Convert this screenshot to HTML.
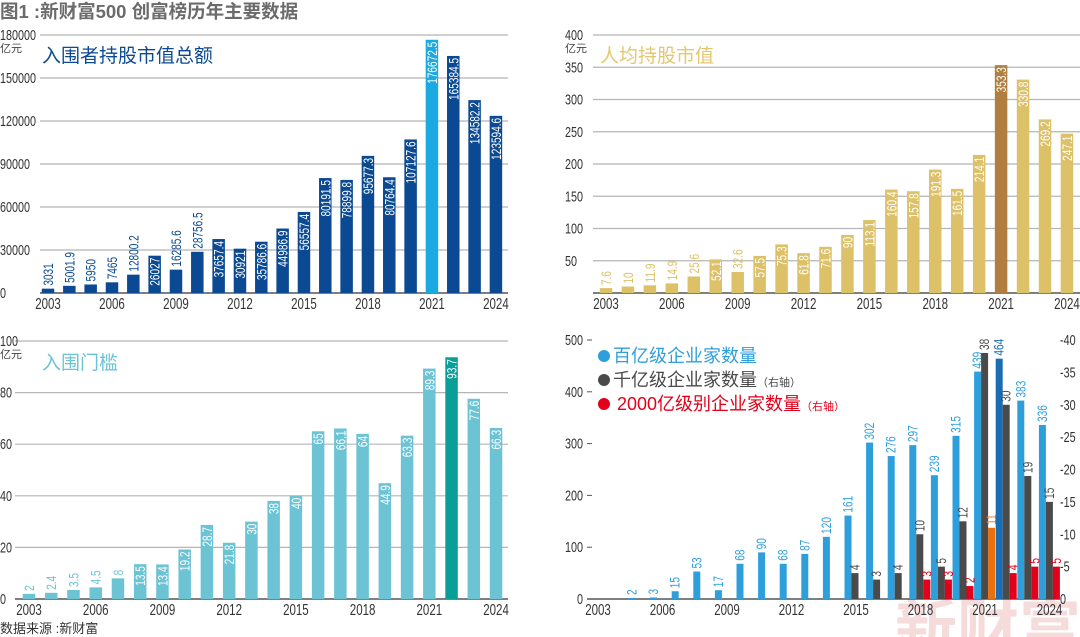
<!DOCTYPE html>
<html><head><meta charset="utf-8">
<style>
html,body{margin:0;padding:0;background:#fff;width:1080px;height:637px;overflow:hidden;}
svg{display:block;overflow:hidden;}
text{font-family:"Liberation Sans Narrow","Liberation Sans","Noto Sans CJK SC",sans-serif;}
.cjk{font-family:"Liberation Sans","Noto Sans CJK SC",sans-serif;}
</style></head>
<body>
<svg id="chart" width="1080" height="637" viewBox="0 0 1080 637" xmlns="http://www.w3.org/2000/svg">
<text class="cjk" x="0" y="18" font-size="18.5" font-weight="bold" fill="#6b6b6b">图1 :新财富500 创富榜历年主要数据</text>
<text class="cjk" x="0" y="633" font-size="13" fill="#333">数据来源 :新财富</text>
<text class="cjk" x="895" y="650" font-size="62" font-weight="bold" fill="#f5d3d3" opacity="0.8">新财富</text>
<g id="layer"></g>
</svg>
<script>
const years = ["2003","2004","2005","2006","2007","2008","2009","2010","2011","2012","2013","2014","2015","2016","2017","2018","2019","2020","2021","2022","2023","2024"];
const yearTicks = ["2003","2006","2009","2012","2015","2018","2021","2024"];
const totalValues = [3031,5001.9,5950,7465,12800.2,26027,16285.6,28756.5,37657.4,30921,35786.6,44986.9,56557.4,80191.5,78899.8,95677.3,80764.4,107127.6,176672.5,165384.5,134582.2,123594.6];
const totalTicks = [0,30000,60000,90000,120000,150000,180000];
const perCapValues = [7.6,10,11.9,14.9,25.6,52.1,32.6,57.5,75.3,61.8,71.6,90,113.1,160.4,157.8,191.3,161.5,214.1,353.3,330.8,269.2,247.1];
const perCapTicks = [50,100,150,200,250,300,350,400];
const thresholdValues = [2,2.4,3.5,4.5,8,13.5,13.4,19.2,28.7,21.8,30,38,40,65,66.1,64,44.9,63.3,89.3,93.7,77.6,66.3];
const thresholdTicks = [0,20,40,60,80,100];
const countYears = ["2004","2005","2006","2007","2008","2009","2010","2011","2012","2013","2014","2015","2016","2017","2018","2019","2020","2021","2022","2023"];
const hundredB = [2,3,15,53,17,68,90,68,87,120,161,302,276,297,239,315,439,464,383,336];
const thousandB = [null,null,null,null,null,null,null,null,null,null,4,3,4,10,5,12,38,30,19,15];
const twoThousandB = [null,null,null,null,null,null,null,null,null,null,null,null,null,3,3,2,11,4,5,5];
const countLeftTicks = [0,100,200,300,400,500];
const countRightTicks = [0,5,10,15,20,25,30,35,40];

const NS="http://www.w3.org/2000/svg";
const layer=document.getElementById('layer');
const SX=0.72;
function mk(tag,attrs,parent){const e=document.createElementNS(NS,tag);for(const k in attrs)e.setAttribute(k,attrs[k]);(parent||layer).appendChild(e);return e;}
function txt(s,attrs,parent){const e=mk('text',attrs,parent);e.textContent=s;return e;}
function textLen(s,fs){return s.length*fs*0.55*SX;}
function nt(s,x,y,fs,fill,anchor,parent){
  return txt(s,{x:0,y:0,'font-size':fs,fill:fill,'text-anchor':anchor||'start',transform:`translate(${x},${y}) scale(${SX},1)`},parent);
}

function barPanel(cfg){
  const g=mk('g',{});
  
  
  const ys=v=>cfg.y0-v/cfg.max*(cfg.y0-cfg.yTop);
  const xs=i=>cfg.x0+i*cfg.step;
  cfg.ticks.forEach(t=>{
    const y=ys(t);
    if(t>0){const l=mk('line',{x1:cfg.gx1,x2:cfg.gx2,y1:y,y2:y,stroke:'#b5b5b5','stroke-width':1.2},g);
      
      }
    const tl=nt(String(t),cfg.tickX,y+5,15,'#333','start',g);
    
    
  });
  const u=txt('亿元',{x:cfg.tickX,y:ys(cfg.max)+17,'font-size':11,fill:'#444',class:'cjk'},g);
  
  
  const base=mk('line',{x1:cfg.gx1,x2:cfg.gx2,y1:cfg.y0,y2:cfg.y0,stroke:'#333','stroke-width':1.3},g);
  
  
  cfg.values.forEach((v,i)=>{
    const x=xs(i),y=ys(v),h=cfg.y0-y;
    const col=i===cfg.hi?cfg.hiColor:cfg.color;
    const r=mk('rect',{x:x-cfg.bw/2,y:y,width:cfg.bw,height:h,fill:col},g);
    
    
    const s=String(v),fs=14,L=textLen(s,fs);
    let t;
    if(h>Math.max(L+6,26)){
      t=txt(s,{x:0,y:0,'font-size':fs,fill:'#fff','text-anchor':'end',transform:`translate(${x+5},${y+2}) rotate(-90) scale(${SX},1)`},g);
    }else{
      t=txt(s,{x:0,y:0,'font-size':fs,fill:col,'text-anchor':'start',transform:`translate(${x+5},${y-3}) rotate(-90) scale(${SX},1)`},g);
    }
    
    
  });
  years.forEach((yr,i)=>{
    if(yearTicks.indexOf(yr)<0)return;
    const t=nt(yr,xs(i),cfg.y0+16,16,'#333','middle',g);
    
    
  });
  const tt=txt(cfg.title,{x:cfg.titleX,y:cfg.titleY,'font-size':19,fill:cfg.titleColor,class:'cjk'},g);
  
  
}

barPanel({name:'total-market-value-panel',values:totalValues,ticks:totalTicks,max:180000,y0:293,yTop:35,x0:48,step:21.33,bw:12.5,gx1:40,gx2:508,tickX:0,color:'#0b4a93',hi:18,hiColor:'#1ba9e2',title:'入围者持股市值总额',titleX:42,titleY:62,titleColor:'#0b4a93'});
barPanel({name:'per-capita-value-panel',values:perCapValues,ticks:perCapTicks,max:400,y0:293,yTop:35,x0:606,step:21.95,bw:12.5,gx1:593,gx2:1080,tickX:565,color:'#dcc169',hi:18,hiColor:'#b07e3f',title:'人均持股市值',titleX:600,titleY:62,titleColor:'#e2c86e'});
barPanel({name:'entry-threshold-panel',values:thresholdValues,ticks:thresholdTicks,max:100,y0:599,yTop:341,x0:29,step:22.24,bw:12.5,gx1:15,gx2:508,tickX:0,color:'#6cc3d4',hi:19,hiColor:'#0a9e98',title:'入围门槛',titleX:42,titleY:369,titleColor:'#6cc3d4'});

(function(){
  const g=mk('g',{});
  
  
  const y0=599,yTop=340;
  const yl=v=>y0-v/500*(y0-yTop);
  const yr=v=>y0-v/40*(y0-yTop);
  const xb=i=>632+i*21.6;
  countLeftTicks.forEach(t=>{
    const y=yl(t);
    const l=nt(String(t),583,y+5,15,'#333','end',g);
    
    
    if(t>0){const m=mk('line',{x1:587,x2:592,y1:y,y2:y,stroke:'#555'},g);
      
      }
  });
  countRightTicks.forEach(t=>{
    const y=yr(t);
    const l=nt((t>0?'-':'')+t,1060,y+5,15,'#333','start',g);
    
    
  });
  const ax=mk('line',{x1:587,x2:1060,y1:y0,y2:y0,stroke:'#333','stroke-width':1.3},g);
  
  
  const lab=(s,x,y,col)=>{const t=txt(s,{x:0,y:0,'font-size':14,fill:col,transform:`translate(${x+4.5},${y-3}) rotate(-90) scale(${SX},1)`},g);
    
    };
  hundredB.forEach((v,i)=>{
    const x=xb(i),y=yl(v);
    const col=i===17?'#1a6cb3':'#2f9fdc';
    const r=mk('rect',{x:x-3.5,y:y,width:7,height:y0-y,fill:col},g);
    
    
    lab(String(v),x,y,col);
  });
  thousandB.forEach((v,i)=>{
    if(v===null)return;
    const x=xb(i)+7,y=yr(v);
    const r=mk('rect',{x:x-3.5,y:y,width:7,height:y0-y,fill:'#4a4a4a'},g);
    
    
    lab(String(v),x,y,'#4a4a4a');
  });
  twoThousandB.forEach((v,i)=>{
    if(v===null)return;
    const x=xb(i)+14,y=yr(v);
    const col=i===16?'#e8700f':'#e2001a';
    const r=mk('rect',{x:x-3.5,y:y,width:7,height:y0-y,fill:col},g);
    
    
    lab(String(v),x,y,col);
  });
  yearTicks.forEach((yrS,k)=>{
    const t=nt(yrS,598+k*64.5,y0+16,16,'#333','middle',g);
    
    
  });
  const leg=[['百亿级企业家数量','','#2f9fdc'],['千亿级企业家数量','（右轴）','#4a4a4a'],['2000亿级别企业家数量','（右轴）','#e2001a']];
  leg.forEach((L,k)=>{
    const y=362+k*24;
    const c=mk('circle',{cx:604,cy:y-6,r:6,fill:L[2]},g);
    
    
    const t=txt(L[0],{x:k===2?617:613,y:y,'font-size':18,fill:L[2],class:'cjk'},g);
    
    
    if(L[1]){const ts=document.createElementNS(NS,'tspan');ts.setAttribute('font-size','11');ts.textContent=L[1];t.appendChild(ts);}
  });
})();
</script>
</body></html>
